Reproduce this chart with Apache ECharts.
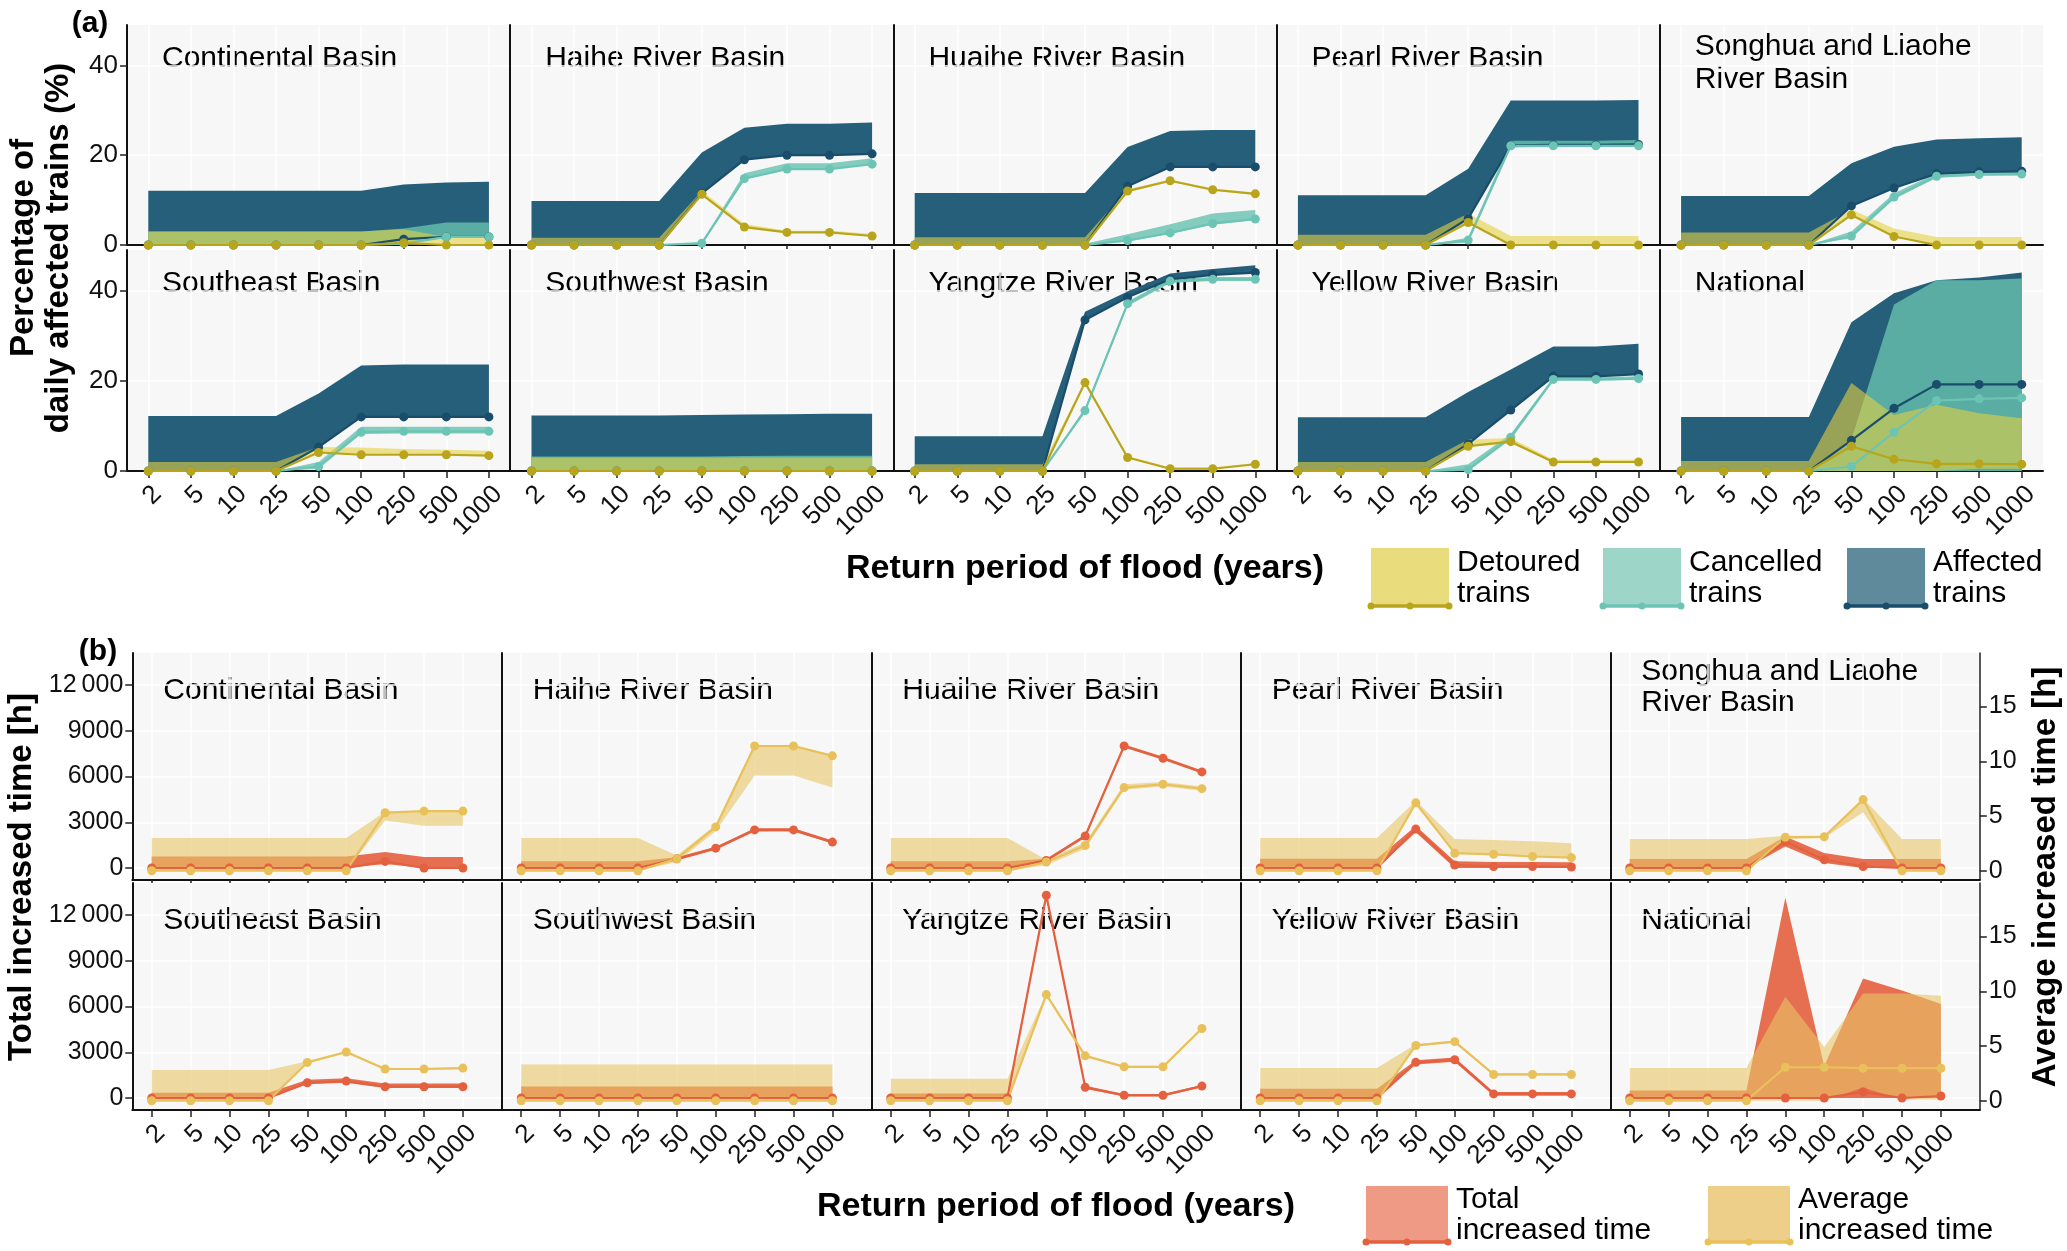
<!DOCTYPE html>
<html><head><meta charset="utf-8">
<script src="https://cdn.jsdelivr.net/npm/echarts@6/dist/echarts.min.js"></script>
<style>html,body{margin:0;padding:0;background:#fff}#c{width:2067px;height:1251px}</style>
</head><body><div id="c"></div>
<script>
// ---------- DATA ----------
const periods = ['2','5','10','25','50','100','250','500','1000'];
const basins = ['Continental Basin','Haihe River Basin','Huaihe River Basin','Pearl River Basin','Songhua and Liaohe\nRiver Basin',
                'Southeast Basin','Southwest Basin','Yangtze River Basin','Yellow River Basin','National'];

// (a) Percentage of daily affected trains (%) — one row per basin
const affLine = [
 [0,0,0,0,0,0,1.3,1.8,1.8],[0,0,0,0,11.5,19.0,20.0,20.0,20.3],[0,0,0,0,0,13.1,17.4,17.4,17.4],[0,0,0,0,5.9,22.2,22.3,22.3,22.4],[0,0,0,0,8.7,12.7,15.9,16.3,16.4],
 [0,0,0,0,5.3,12.0,12.0,12.0,12.0],[0,0,0,0,0,0,0,0,0],[0,0,0,0,33.5,38.5,42.5,43.5,44.0],[0,0,0,0,6.0,13.5,21.0,21.0,21.5],[0,0,0,0,6.8,13.9,19.2,19.2,19.2]];
const affLo = [
 [0,0,0,0,0,0,1.3,1.8,1.8],[0,0,0,0,11.5,19.0,20.0,20.0,20.3],[0,0,0,0,0,13.1,17.4,17.4,17.4],[0,0,0,0,5.9,22.2,22.3,22.3,22.4],[0,0,0,0,8.7,12.7,15.9,16.3,16.4],
 [0,0,0,0,5.3,12.0,12.0,12.0,12.0],[0,0,0,0,0,0,0,0,0],[0,0,0,0,33.5,38.5,42.5,43.5,44.0],[0,0,0,0,6.0,13.5,21.0,21.0,21.5],[0,0,0,0,0,0,0,0,0]];
const affHi = [
 [12.1,12.1,12.1,12.1,12.1,12.1,13.5,13.9,14.1],[9.8,9.8,9.8,9.8,20.6,26.1,27.0,27.0,27.3],[11.6,11.6,11.6,11.6,11.6,21.8,25.4,25.6,25.6],[11.1,11.1,11.1,11.1,17.0,32.2,32.2,32.2,32.3],[10.9,10.9,10.9,10.9,18.2,21.9,23.5,23.8,24.0],
 [12.2,12.2,12.2,12.2,17.2,23.4,23.6,23.6,23.6],[12.3,12.3,12.3,12.3,12.4,12.5,12.6,12.7,12.7],[7.7,7.7,7.7,7.7,35.3,39.8,43.8,44.8,45.6],[11.9,11.9,11.9,11.9,17.5,22.5,27.6,27.6,28.2],[12.0,12.0,12.0,12.0,33.0,39.4,42.3,42.9,44.0]];
const canLine = [
 [0,0,0,0,0,0,0.3,1.8,1.8],[0,0,0,0,0.4,14.8,16.9,16.9,18.0],[0,0,0,0,0,1.0,2.7,4.8,5.8],[0,0,0,0,1.1,22.1,22.1,22.1,22.1],[0,0,0,0,2.0,10.7,15.3,15.7,15.8],
 [0,0,0,0,1.0,8.6,8.8,8.8,8.8],[0,0,0,0,0,0,0,0,0],[0,0,0,0,13.4,37.1,42.1,42.5,42.5],[0,0,0,0,0.3,7.5,20.3,20.3,20.5],[0,0,0,0,1.0,8.6,15.6,16.0,16.2]];
const canLo = [
 [0,0,0,0,0,0,0.3,1.8,1.8],[0,0,0,0,0,14.8,16.9,16.9,18.0],[0,0,0,0,0,0.8,2.5,4.5,5.5],[0,0,0,0,0.5,21.7,21.8,21.8,21.8],[0,0,0,0,1.5,10.2,15.0,15.4,15.5],
 [0,0,0,0,0.5,8.2,8.3,8.3,8.3],[0,0,0,0,0,0,0,0,0],[0,0,0,0,13.0,36.6,41.7,42.1,42.1],[0,0,0,0,0,7.0,20.0,20.0,20.2],[0,0,0,0,0,0,0,0,0]];
const canHi = [
 [3,3,3,3,3,3,3.7,5.0,5.0],[0,0,0,0,0.6,16.0,18.2,18.2,19.3],[0,0,0,0,0.3,2.4,4.6,7.0,7.8],[0,0,0,0,1.6,23.2,23.2,23.2,23.4],[0,0,0,0,3.0,11.5,16.0,16.4,16.5],
 [0,0,0,0,2.0,9.8,9.8,9.8,9.8],[3.2,3.2,3.2,3.2,3.2,3.3,3.4,3.4,3.4],[0,0,0,0,14.0,37.6,42.6,43.0,43.0],[0,0,0,0,1.5,8.2,20.8,20.8,21.0],[0,0,0,0,7.0,36.9,42.3,42.3,42.7]];
const detLine = [
 [0,0,0,0,0,0,0.5,0,0],[0,0,0,0,11.3,4.0,2.8,2.8,2.0],[0,0,0,0,0,12.0,14.3,12.3,11.4],[0,0,0,0,5.0,0,0,0,0],[0,0,0,0,6.7,1.9,0,0,0],
 [0,0,0,0,4.1,3.6,3.6,3.6,3.4],[0,0,0,0,0,0,0,0,0],[0,0,0,0,19.6,3.0,0.5,0.5,1.5],[0,0,0,0,5.5,6.5,2.0,2.0,2.0],[0,0,0,0,5.5,2.6,1.6,1.6,1.5]];
const detLo = [
 [0,0,0,0,0,0,0,0,0],[0,0,0,0,11.0,3.9,2.7,2.7,1.9],[0,0,0,0,0,11.8,14.1,12.1,11.2],[0,0,0,0,4.8,0,0,0,0],[0,0,0,0,6.5,1.8,0,0,0],
 [0,0,0,0,4.0,3.6,3.6,3.6,3.4],[0,0,0,0,0,0,0,0,0],[0,0,0,0,19.3,2.8,0.4,0.4,1.4],[0,0,0,0,5.3,6.2,1.8,1.8,1.8],[0,0,0,0,0,0,0,0.5,0.5]];
const detHi = [
 [3,3,3,3,3,3,3.5,1.8,1.8],[1.6,1.6,1.6,1.6,12.0,4.7,3.2,3.2,2.5],[1.7,1.7,1.7,1.7,1.7,12.4,14.6,12.6,11.7],[2.3,2.3,2.3,2.3,7.0,2.0,2.0,2.0,2.0],[2.8,2.8,2.8,2.8,7.9,3.7,1.8,1.8,1.8],
 [2,2,2,2,5.3,5.2,4.9,4.7,4.5],[3,3,3,3,3,3,3,3,3],[1.5,1.5,1.5,1.5,19.9,3.3,0.8,0.8,1.8],[2,2,2,2,7.0,7.3,2.5,2.5,2.5],[2.2,2.2,2.2,2.2,19.5,12.4,14.7,12.8,11.7]];

// (b) Total increased time [h] (left axis) and average increased time [h] (right axis)
const totLine = [
 [0,0,0,0,0,0,430,0,0],[0,0,0,0,600,1300,2500,2500,1700],[0,0,0,0,500,2100,8000,7200,6300],[0,0,0,0,2550,200,100,100,65],[0,0,0,0,1740,540,100,0,0],
 [0,0,0,0,1000,1110,740,740,740],[0,0,0,0,0,0,0,0,0],[0,0,0,0,13300,700,180,180,780],[0,0,0,0,2340,2510,270,270,270],[0,0,0,0,0,0,400,0,130]];
const totLo = [
 [0,0,0,0,0,0,260,0,0],[0,0,0,0,500,1200,2400,2400,1600],[0,0,0,0,400,2000,7900,7100,6200],[0,0,0,0,2350,0,0,0,0],[0,0,0,0,1410,330,0,0,0],
 [0,0,0,0,900,1000,650,650,650],[0,0,0,0,0,0,0,0,0],[0,0,0,0,13100,600,100,100,700],[0,0,0,0,2200,2380,150,150,150],[0,0,0,0,0,0,0,0,0]];
const totHi = [
 [760,760,760,760,760,760,1050,720,720],[450,450,450,450,700,1400,2600,2600,1800],[450,450,450,450,600,2200,8100,7300,6400],[600,600,600,600,2750,450,400,400,370],[590,590,590,590,2070,980,590,590,590],
 [350,350,350,350,1200,1300,950,950,950],[750,750,750,750,750,750,750,750,750],[300,300,300,300,13500,800,260,260,860],[600,600,600,600,2480,2650,400,400,400],[500,500,500,500,13135,2080,7830,7055,6170]];
const avgLine = [
 [0,0,0,0,0,0,5.3,5.45,5.45],[0,0,0,0,1.1,4.0,11.4,11.4,10.5],[0,0,0,0,0.8,2.3,7.6,7.9,7.5],[0,0,0,0,6.2,1.6,1.5,1.3,1.2],[0,0,0,0,3.06,3.1,6.5,0,0],
 [0,0,0,0,3.5,4.45,2.9,2.9,2.98],[0,0,0,0,0,0,0,0,0],[0,0,0,0,9.7,4.1,3.1,3.1,6.6],[0,0,0,0,5.05,5.4,2.4,2.4,2.4],[0,0,0,0,3.06,3.06,2.97,2.97,2.97]];
const avgLo = [
 [0,0,0,0,0,0,4.6,4.1,4.1],[0,0,0,0,0.8,3.6,8.7,8.7,7.6],[0,0,0,0,0.5,2.0,7.4,7.7,7.3],[0,0,0,0,6.0,1.6,1.5,1.3,1.2],[0,0,0,0,2.9,3.0,5.35,0,0],
 [0,0,0,0,3.4,4.35,2.8,2.8,2.9],[0,0,0,0,0,0,0,0,0],[0,0,0,0,9.6,4.0,3.0,3.0,6.5],[0,0,0,0,4.95,5.3,2.3,2.3,2.3],[0,0,0,0,0,0,1.2,0.1,0.1]];
const avgHi = [
 [3,3,3,3,3,3,5.4,5.5,5.5],[3,3,3,3,1.4,4.2,11.5,11.5,10.6],[3,3,3,3,1.0,2.6,7.9,8.1,7.7],[3,3,3,3,6.4,2.9,2.8,2.7,2.5],[2.9,2.9,2.9,2.9,3.2,3.2,6.6,2.9,2.9],
 [2.8,2.8,2.8,2.8,3.6,4.55,3.0,3.0,3.05],[3.3,3.3,3.3,3.3,3.3,3.3,3.3,3.3,3.3],[2,2,2,2,9.8,4.2,3.2,3.2,6.7],[3,3,3,3,5.15,5.5,2.5,2.5,2.5],[3,3,3,3,9.5,4.9,9.8,9.8,9.6]];

const leftTicksA = [0,20,40];
const leftTicksB = [0,3000,6000,9000,12000];
const rightTicksB = [0,5,10,15];

// ---------- STYLE ----------
const FONT = "'Liberation Sans', Arial, Helvetica, sans-serif";
const C = {
  affFill:'rgba(38,95,122,1)', canFill:'rgba(102,192,174,0.8)', detFill:'rgba(228,208,65,0.6)',
  affLine:'#1a4d6b', canLine:'#6cc5b4', detLine:'#b9a51c',
  totFill:'rgba(230,103,72,0.95)', avgFill:'rgba(232,197,102,0.6)',
  totLine:'#e4603e', avgLine:'#e8c15a'
};
const idx = periods.map((p,j)=>j);
const pts = arr => arr.map((v,j)=>[j,v]);

const chart = echarts.init(document.getElementById('c'));
const grids=[], xAxes=[], yAxesL=[], yAxesR=[], series=[], graphics=[];

// ribbon between lo and hi, drawn through the axes' own coordinate mapping
function ribbon(xi, yi, lo, hi, color){
  series.push({type:'custom', coordinateSystem:'cartesian2d', xAxisIndex:xi, yAxisIndex:yi,
    data:[[0, lo[0]]], silent:true, z:2, clip:true,
    renderItem:function(params, api){
      if (params.dataIndex !== 0) return null;
      const top = hi.map((v,j)=>api.coord([j,v]));
      const bot = lo.map((v,j)=>api.coord([j,v])).reverse();
      return {type:'polygon', shape:{points: top.concat(bot)}, style:{fill:color, stroke:null}};
    }});
}
function line(xi, yi, data, color, w, s){
  series.push({type:'line', xAxisIndex:xi, yAxisIndex:yi, data:pts(data), symbol:'circle', symbolSize:s,
    showSymbol:true, lineStyle:{color:color,width:w}, itemStyle:{color:color}, silent:true, z:3});
}
const axisLineStyle = {show:true, onZero:false, lineStyle:{color:'#111', width:2}};
const xLabel = (show)=>({show:show, customValues:idx, formatter:v=>periods[Math.round(v)], rotate:45,
  verticalAlign:'top', fontSize:26, fontFamily:FONT, color:'#111', margin:10});

// ---------- PANEL (a) ----------
for (let k=0;k<10;k++){
  const c=k%5, r=Math.floor(k/5);
  const left=127+383.2*c, top=r?250:25, h=r?221:220;
  grids.push({left:left, top:top, width:383.2, height:h, show:true, backgroundColor:'#f7f7f7', borderWidth:0});
  xAxes.push({type:'value', gridIndex:k, min:-0.5, max:8.5,
    axisLine:axisLineStyle,
    axisTick:{show:true, customValues:idx, length:r?7:4, lineStyle:{color:'#222',width:1.5}},
    axisLabel:xLabel(r===1),
    splitLine:{show:true, lineStyle:{color:'#ffffff', width:1.5}}});
  yAxesL.push({type:'value', gridIndex:k, min:0, max:49,
    axisLine:axisLineStyle,
    axisTick:{show:c===0, customValues:leftTicksA, length:7, lineStyle:{color:'#222',width:1.5}},
    axisLabel:{show:c===0, customValues:leftTicksA, fontSize:26, fontFamily:FONT, color:'#111', margin:9},
    splitLine:{show:true, lineStyle:{color:'#ffffff', width:1.5}}});
  ribbon(k,k,affLo[k],affHi[k],C.affFill);
  ribbon(k,k,canLo[k],canHi[k],C.canFill);
  ribbon(k,k,detLo[k],detHi[k],C.detFill);
  line(k,k,affLine[k],C.affLine,2.2,9);
  line(k,k,canLine[k],C.canLine,2.2,9);
  line(k,k,detLine[k],C.detLine,2.2,9);
  const two = basins[k].indexOf('\n')>=0;
  graphics.push({type:'text', x:left+35, y:top+(two?38.5:34), silent:true,
    style:{text:basins[k], fontSize:30, fontFamily:FONT, fill:'#000', align:'left', verticalAlign:'middle', lineHeight:33}});
}

// ---------- PANEL (b) ----------
for (let k=0;k<10;k++){
  const c=k%5, r=Math.floor(k/5);
  const left=132.3+369.5*c, top=r?883:653;
  const g=10+k;
  grids.push({left:left, top:top, width:369.5, height:227, show:true, backgroundColor:'#f7f7f7', borderWidth:0});
  xAxes.push({type:'value', gridIndex:g, min:-0.5, max:9.0,
    axisLine:axisLineStyle,
    axisTick:{show:true, customValues:idx, length:r?7:3, lineStyle:{color:'#222',width:1.5}},
    axisLabel:xLabel(r===1),
    splitLine:{show:true, lineStyle:{color:'#ffffff', width:1.5}}});
  yAxesL.push({type:'value', gridIndex:g, min:-787, max:14100, position:'left',
    axisLine:axisLineStyle,
    axisTick:{show:c===0, customValues:leftTicksB, length:7, lineStyle:{color:'#222',width:1.5}},
    axisLabel:{show:c===0, customValues:leftTicksB, formatter:v=>v>=10000?String(v).replace(/(\d{2})(\d{3})$/,'$1\u2009$2'):String(v), fontSize:25, fontFamily:FONT, color:'#111', margin:9},
    splitLine:{show:true, lineStyle:{color:'#ffffff', width:1.5}}});
  yAxesR.push({type:'value', gridIndex:g, min:-0.85, max:19.9, position:'right',
    axisLine:{show:c===4, onZero:false, lineStyle:{color:'#222', width:1.5}},
    axisTick:{show:c===4, customValues:rightTicksB, length:7, lineStyle:{color:'#222',width:1.5}},
    axisLabel:{show:c===4, customValues:rightTicksB, fontSize:25, fontFamily:FONT, color:'#111', margin:9},
    splitLine:{show:false}});
}
const yAxes = yAxesL.concat(yAxesR);
for (let k=0;k<10;k++){
  const c=k%5, r=Math.floor(k/5);
  const left=132.3+369.5*c, top=r?883:653;
  const xi=10+k, yl=10+k, yr=20+k;
  ribbon(xi,yl,totLo[k],totHi[k],C.totFill);
  ribbon(xi,yr,avgLo[k],avgHi[k],C.avgFill);
  line(xi,yl,totLine[k],C.totLine,2.2,9);
  line(xi,yr,avgLine[k],C.avgLine,2.2,9);
  const two = basins[k].indexOf('\n')>=0;
  graphics.push({type:'text', x:left+31, y:top+(two?34.5:38), silent:true,
    style:{text:basins[k], fontSize:30, fontFamily:FONT, fill:'#000', align:'left', verticalAlign:'middle', lineHeight:31}});
}

// ---------- TEXTS & LEGENDS ----------
function txt(x,y,t,opt){
  graphics.push(Object.assign({type:'text', x:x, y:y, silent:true,
    style:Object.assign({text:t, fontFamily:FONT, fill:'#000', align:'center', verticalAlign:'middle'}, opt.style||{})}, opt.el||{}));
}
txt(90,24,'(a)',{style:{fontSize:30,fontWeight:'bold'}});
txt(98,652,'(b)',{style:{fontSize:30,fontWeight:'bold'}});
txt(41,248,'Percentage of\ndaily affected trains (%)',{el:{rotation:Math.PI/2},style:{fontSize:33,fontWeight:'bold',lineHeight:35}});
txt(22,877,'Total increased time [h]',{el:{rotation:Math.PI/2},style:{fontSize:33,fontWeight:'bold'}});
txt(2046,877,'Average increased time [h]',{el:{rotation:Math.PI/2},style:{fontSize:33,fontWeight:'bold'}});
txt(1085,569,'Return period of flood (years)',{style:{fontSize:34,fontWeight:'bold'}});
txt(1056,1207,'Return period of flood (years)',{style:{fontSize:34,fontWeight:'bold'}});

function legendItem(x,y,w,h,fill,lineColor,label){
  graphics.push({type:'rect', silent:true, shape:{x:x,y:y,width:w,height:h}, style:{fill:fill}});
  graphics.push({type:'polyline', silent:true, shape:{points:[[x,y+h],[x+w,y+h]]}, style:{stroke:lineColor,lineWidth:3.5}});
  [0,0.5,1].forEach(f=>graphics.push({type:'circle', silent:true, shape:{cx:x+w*f, cy:y+h, r:3.5}, style:{fill:lineColor}}));
  txt(x+w+8, y+h/2+1, label, {style:{fontSize:30, align:'left', lineHeight:31}});
}
legendItem(1371,548,78,58,'#e8dc7c',C.detLine,'Detoured\ntrains');
legendItem(1603,548,78,58,'#9dd5c9',C.canLine,'Cancelled\ntrains');
legendItem(1847,548,78,58,'#5e8a9c',C.affLine,'Affected\ntrains');
legendItem(1366,1186,82,56,'#ef9a85',C.totLine,'Total\nincreased time');
legendItem(1708,1186,82,56,'#edcf89',C.avgLine,'Average\nincreased time');

chart.setOption({
  animation:false,
  backgroundColor:'#ffffff',
  grid:grids, xAxis:xAxes, yAxis:yAxes, series:series, graphic:graphics
});
</script></body></html>
